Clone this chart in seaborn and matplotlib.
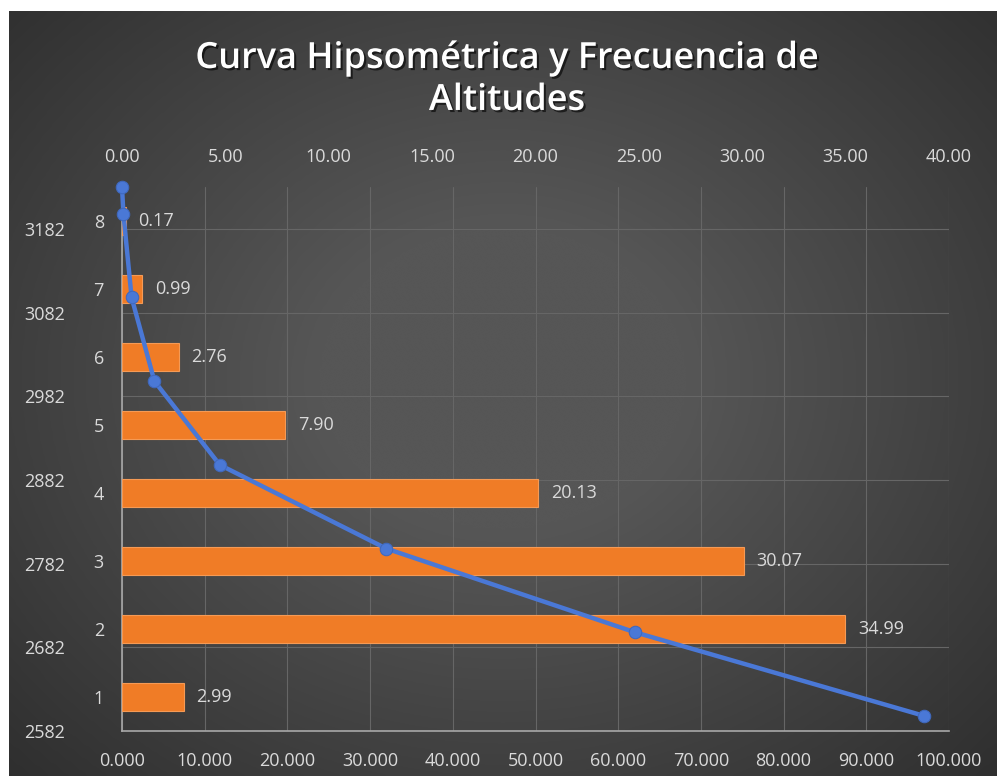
import numpy as np
import pandas as pd
import matplotlib
matplotlib.use("Agg")
import matplotlib.pyplot as plt
from matplotlib import patheffects as pe
from matplotlib.colors import LinearSegmentedColormap
from matplotlib.ticker import FormatStrFormatter
import seaborn as sns

# Altitude classes and their share of the basin area (%)
classes = ["1", "2", "3", "4", "5", "6", "7", "8"]
freq = [2.99, 34.99, 30.07, 20.13, 7.90, 2.76, 0.99, 0.17]

# Hypsometric curve: altitude (m) vs. cumulative % of area above it
curve_alt = [3232, 3200, 3100, 3000, 2900, 2800, 2700, 2600]
curve_cum = [0.00, 0.17, 1.16, 3.92, 11.82, 31.95, 62.02, 97.01]

alt_ticks = [2582, 2682, 2782, 2882, 2982, 3082, 3182]
cum_ticks = [0, 10, 20, 30, 40, 50, 60, 70, 80, 90, 100]
freq_ticks = [0, 5, 10, 15, 20, 25, 30, 35, 40]

title = "Curva Hipsométrica y Frecuencia de\nAltitudes"

sns.set_style("dark")
plt.rcParams["font.family"] = ["Open Sans", "DejaVu Sans"]

TXT = "#dadada"
GRID = "#666666"
AXIS = "#a8a8a8"
BAR = "#f07c26"
LINE = "#4a78d6"

W, H = 997, 776
fig = plt.figure(figsize=(W / 100, H / 100), dpi=100, facecolor="white")

# dark chart panel with a soft radial gradient
bg = fig.add_axes([9 / W, 0, (W - 9) / W, (H - 11) / H])
yy, xx = np.mgrid[0:1:300j, 0:1:380j]
r = np.sqrt(((xx - 0.5) / 0.75) ** 2 + ((yy - 0.48) / 0.8) ** 2)
shade = np.clip(1 - r, 0, 1)
cmap = LinearSegmentedColormap.from_list("panel", ["#2b2b2b", "#565656"])
bg.imshow(shade, cmap=cmap, aspect="auto", interpolation="bicubic", vmin=0, vmax=0.75)
bg.axis("off")

x0, x1 = 122, 949
y_top, y_bot = 187, 731
pos = [x0 / W, (H - y_bot) / H, (x1 - x0) / W, (y_bot - y_top) / H]

# base axes: hypsometric scales, grid, bottom and left altitude ticks
ax = fig.add_axes(pos, zorder=1)
ax.set_facecolor("none")
ax.set_xlim(0, 100)
ax.set_ylim(2582, 3232)
ax.set_xticks(cum_ticks)
ax.set_yticks(alt_ticks)
ax.xaxis.set_major_formatter(FormatStrFormatter("%.3f"))
ax.grid(True, color=GRID, linewidth=0.8)
ax.tick_params(axis="x", colors=TXT, labelsize=13, length=0, pad=15)
ax.tick_params(axis="y", colors=TXT, labelsize=13, length=0, pad=41)
for s in ["top", "right"]:
    ax.spines[s].set_visible(False)
for s in ["left", "bottom"]:
    ax.spines[s].set_color(AXIS)
    ax.spines[s].set_linewidth(1.2)

# bar axes: frequency per altitude class, value scale on top
axb = fig.add_axes(pos, zorder=2)
axb.set_facecolor("none")
df = pd.DataFrame({"clase": classes, "freq": freq})
sns.barplot(data=df, x="freq", y="clase", order=classes[::-1], orient="h",
            color=BAR, saturation=1, width=0.41, ax=axb,
            edgecolor="#f59a55", linewidth=0.8)
axb.set_xlim(0, 40)
axb.set_xticks(freq_ticks)
axb.xaxis.set_major_formatter(FormatStrFormatter("%.2f"))
axb.xaxis.tick_top()
axb.set_xlabel("")
axb.set_ylabel("")
axb.grid(False)
axb.tick_params(axis="x", colors=TXT, labelsize=13, length=0, pad=15)
axb.tick_params(axis="y", colors=TXT, labelsize=13, length=0, pad=13)
for s in axb.spines.values():
    s.set_visible(False)
axb.bar_label(axb.containers[0], labels=[f"{v:.2f}" for v in freq[::-1]],
              padding=9, color=TXT, fontsize=13)

# overlay axes: hypsometric curve
axl = fig.add_axes(pos, zorder=3)
axl.set_facecolor("none")
sns.lineplot(x=curve_cum, y=curve_alt, sort=False, ax=axl, color=LINE,
             linewidth=3.2, marker="o", markersize=9,
             markerfacecolor=LINE, markeredgecolor="#3f68bd", clip_on=False)
axl.set_xlim(0, 100)
axl.set_ylim(2582, 3232)
axl.axis("off")

fig.text(507 / W, 1 - 80 / H, title, ha="center", va="center",
         color="white", fontsize=26, fontweight="semibold", linespacing=1.22,
         path_effects=[pe.withSimplePatchShadow(offset=(1.5, -1.5),
                                                shadow_rgbFace="black", alpha=0.6)])

fig.savefig("out.png", dpi=100, facecolor="white")
